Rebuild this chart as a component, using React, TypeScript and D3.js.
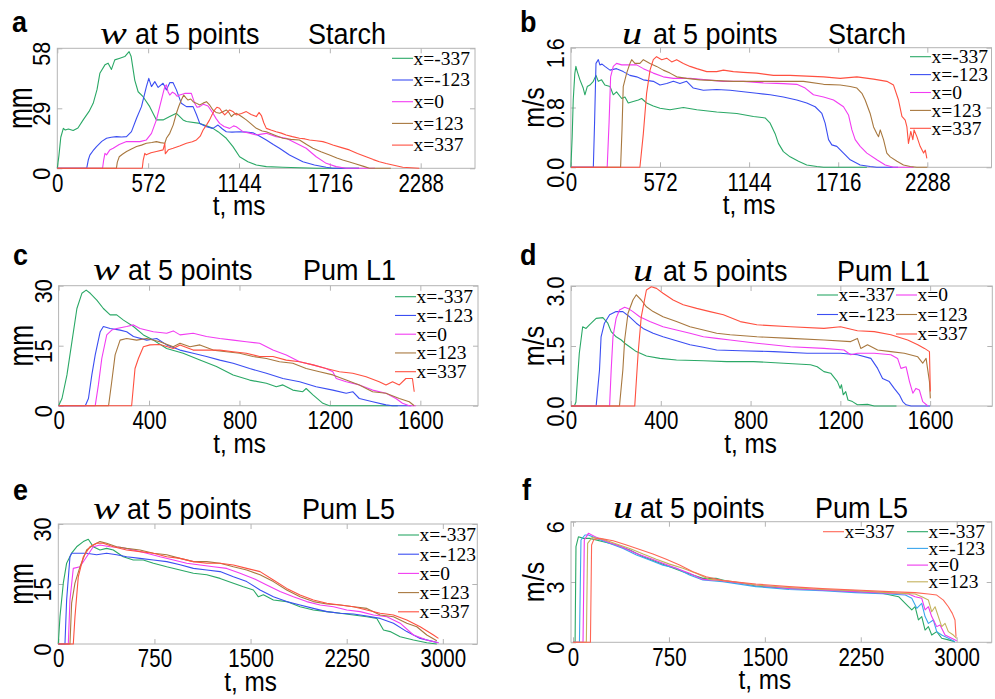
import React, { useEffect, useRef } from "react";
import * as d3 from "d3";

type Pt = [number, number];

// legend labels (shared by every panel)
const legendLabels = ["x=-337", "x=-123", "x=0", "x=123", "x=337"];

// tick values
const starchTicks = [0, 572, 1144, 1716, 2288];
const l1Ticks = [0, 400, 800, 1200, 1600];
const l5Ticks = [0, 750, 1500, 2250, 3000];

// a: w at 5 points, Starch  (t ms, w mm)
const starchW_m337: Pt[] = [[0,0],[10,6],[22,15],[38,19.3],[50,18.5],[70,19],[100,18.3],[130,19.5],[163,23.4],[200,27.5],[226,31.4],[250,38],[268,45.9],[300,50],[320,50.8],[341,47.8],[362,52.4],[394,53.2],[425,54],[452,56.4],[465,54],[488,42.5],[509,37],[540,34.6],[582,29.8],[624,23.4],[666,23.4],[708,25],[750,26.6],[792,23.4],[813,22.6],[897,21.7],[940,20.5],[980,19.3],[1012,17.7],[1064,14.5],[1106,10.5],[1148,5.6],[1200,3.2],[1253,1.6],[1316,0.8],[1420,0.5],[1630,0],[1900,0]];
const starchW_m123: Pt[] = [[0,0],[185,0],[195,4],[205,6.4],[225,8.5],[247,10.5],[280,13],[310,14.5],[340,15],[373,15.3],[405,15.1],[436,15.3],[467,17.7],[499,24.2],[530,29.8],[561,39.5],[576,43.5],[593,39.5],[614,41.9],[635,39.1],[666,41.1],[687,37.9],[708,41.4],[729,41.4],[750,37.9],[781,31.4],[813,29.8],[855,29.8],[876,26],[897,21.7],[939,20.1],[980,19.3],[1012,20.9],[1040,19],[1064,17.7],[1100,17.5],[1148,17.7],[1190,17.5],[1232,17.2],[1275,15.5],[1316,13.7],[1360,11.5],[1399,9.7],[1462,6.4],[1546,3.2],[1619,1.6],[1693,0.5],[1735,0],[1900,0]];
const starchW_0: Pt[] = [[0,0],[285,0],[292,4],[300,7.2],[310,6.5],[330,8.8],[352,9.7],[390,11.5],[436,12.9],[480,12.9],[520,12.9],[561,13.7],[593,16.9],[624,23.4],[645,29.8],[665,36],[677,39.5],[687,40.3],[697,37],[708,35.4],[725,36.8],[739,36.2],[755,34.8],[771,35.4],[802,36.2],[844,36.2],[865,31.4],[880,29.5],[897,29.8],[920,31],[949,30.1],[980,26.6],[1000,24],[1022,21.7],[1050,20.2],[1085,19.3],[1110,20.5],[1127,20.1],[1169,17.7],[1210,17],[1253,16.1],[1285,16.5],[1316,16.9],[1378,15.3],[1441,14.5],[1504,12.1],[1567,9.7],[1630,5.6],[1693,2.4],[1756,0.8],[1818,0],[2000,0]];
const starchW_123: Pt[] = [[0,0],[372,0],[378,3],[390,5.6],[410,6.8],[436,8.1],[470,9.5],[499,10.5],[530,11.2],[561,12.1],[595,12.5],[624,12.9],[650,12.4],[677,12.1],[687,14.5],[708,16.9],[730,21],[750,26.6],[765,30],[781,33],[796,35.4],[810,34],[823,33],[840,33.5],[855,32.2],[875,31.5],[897,30.6],[918,31.5],[939,32.2],[960,30.5],[980,28.2],[1000,27],[1022,26.6],[1045,27.5],[1064,28.2],[1080,27],[1096,25],[1110,26],[1127,26.6],[1160,25],[1190,23.4],[1220,21.5],[1253,19.3],[1290,18],[1316,17.7],[1370,16],[1420,14.5],[1470,14],[1525,13.7],[1570,11.5],[1609,9.7],[1660,8],[1714,6.4],[1760,5],[1797,4],[1840,3],[1881,2.1],[1934,0.8],[1965,0],[2100,0]];
const starchW_337: Pt[] = [[0,0],[535,0],[541,4],[551,7.2],[560,6.5],[590,7.5],[624,8.1],[666,8.9],[673,11],[677,12.1],[680,7],[700,9],[729,9.7],[770,10.8],[813,12.1],[850,12.8],[876,13.7],[900,15.5],[918,18.5],[940,21],[959,23.4],[975,26],[991,28.2],[1005,29.5],[1022,29],[1040,27],[1054,25.8],[1070,27],[1085,28.2],[1105,27.5],[1127,25.8],[1160,26.5],[1190,27.4],[1220,26],[1253,25],[1270,27],[1285,25.5],[1300,22],[1316,19.3],[1345,18.5],[1378,17.7],[1410,17],[1441,16.1],[1480,15.3],[1525,14.5],[1560,14.2],[1588,13.7],[1630,13.3],[1672,12.9],[1700,12.2],[1735,11.3],[1790,10],[1839,8.9],[1890,7.2],[1944,5.6],[1990,4.2],[2028,3.2],[2070,2.3],[2112,1.6],[2175,0.5],[2279,0]];

// b: u at 5 points, Starch  (t ms, u m/s)
const starchU_m337: Pt[] = [[0,0],[8,0.4],[15,0.9],[25,1.25],[32,1.35],[41,1.28],[58,1.17],[79,1.06],[90,0.97],[105,1.08],[122,1.1],[144,1.15],[161,1.23],[176,1.15],[197,1.17],[218,1.1],[251,1.08],[272,0.97],[293,1.01],[326,0.92],[347,0.94],[368,0.86],[400,0.88],[433,0.9],[454,0.92],[486,0.86],[529,0.82],[572,0.79],[636,0.77],[722,0.8],[808,0.77],[936,0.74],[1065,0.72],[1172,0.68],[1247,0.66],[1279,0.59],[1311,0.45],[1332,0.32],[1364,0.21],[1407,0.14],[1461,0.08],[1514,0.03],[1579,0.01],[1622,0],[1900,0]];
const starchU_m123: Pt[] = [[0,0],[144,0],[152,0.6],[161,1.39],[176,1.44],[186,1.37],[200,1.38],[218,1.35],[251,1.3],[293,1.32],[336,1.28],[379,1.23],[422,1.21],[465,1.17],[529,1.15],[572,1.1],[615,1.12],[658,1.15],[700,1.12],[743,1.15],[786,1.06],[850,1.03],[936,1.04],[1022,1.03],[1107,1.01],[1193,0.99],[1279,0.97],[1364,0.94],[1450,0.9],[1514,0.86],[1568,0.81],[1611,0.72],[1632,0.59],[1654,0.37],[1675,0.3],[1707,0.28],[1750,0.19],[1793,0.1],[1857,0.03],[1921,0.01],[1964,0],[2100,0]];
const starchU_0: Pt[] = [[0,0],[233,0],[245,0.6],[255,1.21],[272,1.35],[293,1.39],[326,1.37],[379,1.37],[422,1.37],[465,1.32],[529,1.26],[593,1.21],[658,1.19],[765,1.19],[872,1.17],[979,1.15],[1107,1.15],[1236,1.13],[1364,1.12],[1450,1.11],[1504,1.06],[1557,0.97],[1622,0.94],[1686,0.9],[1750,0.81],[1782,0.7],[1804,0.5],[1825,0.37],[1857,0.28],[1900,0.19],[1964,0.1],[2018,0.03],[2071,0],[2200,0]];
const starchU_123: Pt[] = [[0,0],[319,0],[328,0.5],[336,1.08],[358,1.26],[379,1.39],[390,1.44],[411,1.39],[443,1.39],[465,1.44],[508,1.39],[550,1.35],[593,1.3],[636,1.26],[679,1.21],[743,1.19],[829,1.17],[936,1.16],[1043,1.15],[1193,1.15],[1343,1.15],[1493,1.15],[1622,1.11],[1729,1.1],[1793,1.08],[1836,1.06],[1868,0.99],[1889,0.9],[1921,0.72],[1943,0.54],[1964,0.45],[1975,0.41],[1986,0.5],[2007,0.37],[2028,0.19],[2050,0.14],[2093,0.08],[2135,0.03],[2178,0.01],[2221,0],[2288,0]];
const starchU_337: Pt[] = [[0,0],[443,0],[465,0.45],[486,0.99],[508,1.3],[529,1.44],[550,1.48],[583,1.44],[615,1.46],[647,1.41],[679,1.44],[722,1.39],[765,1.35],[808,1.32],[872,1.28],[936,1.28],[979,1.3],[1043,1.28],[1107,1.27],[1193,1.26],[1300,1.23],[1407,1.23],[1514,1.22],[1622,1.21],[1729,1.19],[1836,1.21],[1943,1.18],[2028,1.15],[2071,1.1],[2103,0.9],[2125,0.68],[2146,0.63],[2157,0.54],[2167,0.32],[2182,0.48],[2195,0.37],[2203,0.5],[2221,0.41],[2242,0.28],[2264,0.19],[2275,0.23],[2285,0.12]];

// c: w at 5 points, Pum L1
const l1W_m337: Pt[] = [[0,0],[15,1.8],[37,7.7],[59,16],[81,24.3],[103,28.1],[122,28.9],[140,28.1],[169,26.4],[198,24.3],[228,22.7],[257,22.7],[287,21.4],[331,19.8],[375,17.7],[419,16.4],[478,14.3],[551,13.1],[625,11.4],[698,9.8],[772,7.7],[845,6.4],[919,5.6],[963,4.75],[992,5.2],[1036,3.9],[1080,3.5],[1095,4.3],[1125,2.7],[1169,0.6],[1198,0],[1500,0]];
const l1W_m123: Pt[] = [[0,0],[118,0],[132,1.8],[147,7.7],[162,12.7],[184,18.5],[198,19.8],[228,19.3],[272,18.9],[301,18.5],[331,17.3],[390,16.4],[434,16.8],[478,15.2],[537,13.9],[595,13.1],[654,12.3],[713,11.4],[772,10.6],[845,9.3],[919,8.1],[992,6.8],[1066,6],[1139,4.75],[1213,3.9],[1272,3.1],[1301,3.5],[1330,1.8],[1389,1],[1448,0.2],[1477,0],[1560,0]];
const l1W_0: Pt[] = [[0,0],[162,0],[176,5.2],[191,11.8],[213,17.7],[235,18.9],[257,19.3],[301,19.8],[331,20.2],[360,19.3],[419,18.5],[478,18.1],[507,18.7],[537,17.7],[595,18.1],[654,17.3],[713,16.8],[772,16.4],[830,16],[889,15.6],[948,13.9],[1007,12.7],[1066,11],[1125,10.2],[1183,9.3],[1213,8.5],[1228,6.8],[1272,6],[1330,5.2],[1389,3.9],[1448,3.1],[1492,1.8],[1521,0.6],[1551,0],[1580,0]];
const l1W_123: Pt[] = [[0,0],[221,0],[235,6],[250,12.7],[272,16.4],[301,16.8],[345,16.4],[390,16.8],[448,16],[507,14.75],[537,15.6],[581,14.75],[625,15.2],[684,13.9],[742,13.5],[801,13.1],[860,12.3],[919,11.8],[977,11],[1036,10.6],[1095,9.3],[1154,8.5],[1213,7.7],[1272,6.4],[1330,5.2],[1389,3.5],[1448,3.1],[1507,1.8],[1551,1],[1573,0]];
const l1W_337: Pt[] = [[0,0],[323,0],[338,9.3],[353,11.8],[375,14.75],[404,15.2],[448,15.3],[507,14.3],[537,15.2],[595,13.9],[654,13.9],[713,13.9],[772,13.5],[830,13.1],[889,12.3],[948,12.3],[1007,11.4],[1066,11],[1125,10.2],[1183,9.3],[1242,8.5],[1301,8.1],[1360,7.25],[1418,6],[1448,5.2],[1477,6],[1507,5.2],[1536,6.8],[1565,6.8],[1573,3.5]];

// d: u at 5 points, Pum L1
const l1U_m337: Pt[] = [[0,0],[15,0],[22,0.1],[37,1.32],[52,1.98],[67,1.94],[82,2.03],[112,2.19],[142,2.21],[164,2.07],[179,1.86],[201,1.73],[224,1.65],[239,1.57],[261,1.48],[291,1.36],[336,1.25],[396,1.19],[470,1.15],[590,1.13],[694,1.11],[813,1.11],[948,1.07],[1067,1.03],[1097,0.98],[1127,0.86],[1157,0.82],[1187,0.61],[1199,0.44],[1205,0.53],[1213,0.28],[1224,0.36],[1234,0.15],[1254,0.11],[1276,0.03],[1321,0.04],[1351,0],[1450,0]];
const l1U_m123: Pt[] = [[0,0],[112,0],[127,0.9],[134,1.73],[149,2.07],[172,2.28],[201,2.36],[231,2.36],[261,2.23],[291,2.07],[321,1.94],[366,1.82],[410,1.73],[470,1.63],[530,1.53],[590,1.47],[649,1.4],[754,1.38],[903,1.36],[1052,1.32],[1201,1.32],[1276,1.28],[1336,1.19],[1366,0.94],[1388,0.69],[1403,0.65],[1418,0.61],[1440,0.44],[1463,0.28],[1478,0.11],[1493,0.03],[1515,0],[1600,0]];
const l1U_0: Pt[] = [[0,0],[172,0],[179,0.9],[187,1.73],[201,2.19],[216,2.4],[239,2.47],[254,2.44],[276,2.36],[306,2.23],[351,2.11],[410,1.98],[470,1.9],[530,1.82],[590,1.73],[649,1.69],[709,1.65],[828,1.57],[978,1.48],[1127,1.44],[1216,1.4],[1246,1.28],[1276,1.32],[1351,1.32],[1425,1.28],[1455,1.19],[1470,0.94],[1493,0.98],[1508,0.61],[1523,0.32],[1537,0.44],[1552,0.4],[1567,0.11],[1590,0]];
const l1U_123: Pt[] = [[0,0],[216,0],[231,0.9],[239,1.65],[254,2.32],[276,2.65],[291,2.78],[313,2.65],[336,2.48],[366,2.36],[410,2.23],[470,2.11],[530,1.98],[590,1.9],[649,1.82],[709,1.78],[828,1.73],[978,1.69],[1127,1.65],[1246,1.61],[1276,1.69],[1291,1.44],[1321,1.53],[1366,1.4],[1425,1.36],[1485,1.32],[1545,1.23],[1567,1.07],[1582,1.19],[1597,0.61],[1601,0.19]];
const l1U_337: Pt[] = [[0,0],[284,0],[299,1.32],[313,2.23],[336,2.9],[358,2.98],[381,2.94],[410,2.82],[455,2.65],[500,2.53],[560,2.44],[619,2.36],[679,2.28],[754,2.11],[828,2.03],[978,1.98],[1127,1.94],[1201,1.98],[1276,1.88],[1351,1.86],[1425,1.78],[1500,1.65],[1545,1.53],[1575,1.44],[1597,1.36],[1601,0.36]];

// e: w at 5 points, Pum L5
const l5W_m337: Pt[] = [[0,0],[13,6.8],[39,15.2],[65,20.2],[104,22.7],[143,24.3],[195,25.6],[234,26.2],[273,24.3],[325,23.5],[377,23.9],[429,23.5],[507,21.8],[585,21],[663,21],[742,20.2],[846,19.3],[950,18.5],[1054,17.7],[1158,17.3],[1262,16.4],[1366,15.2],[1444,14.3],[1522,13.5],[1561,11.8],[1600,12.3],[1678,11],[1782,10.6],[1886,9.3],[1990,8.5],[2095,8.1],[2199,7.7],[2303,7.25],[2407,6.8],[2485,6.4],[2537,3.5],[2589,3.1],[2667,1.8],[2771,1],[2875,0.3],[2953,0]];
const l5W_m123: Pt[] = [[0,0],[52,0],[65,11],[91,21.8],[104,22.7],[221,22.7],[299,22.3],[377,22.7],[455,22.3],[533,21.8],[637,21.4],[742,21],[846,20.6],[950,19.8],[1054,18.9],[1158,18.5],[1262,18.1],[1366,16.8],[1470,15.6],[1574,13.5],[1678,11.8],[1782,10.6],[1886,9.75],[1990,8.9],[2095,8.1],[2199,7.7],[2303,7.5],[2407,7],[2511,6.4],[2615,5.2],[2719,3.1],[2823,1.4],[2927,0.6],[2966,0.3]];
const l5W_0: Pt[] = [[0,0],[78,0],[91,11],[117,18.9],[169,19.3],[221,21.8],[273,24.3],[325,24.75],[403,24.3],[481,24.2],[585,23.5],[690,22.7],[794,21.8],[898,21],[1002,20.2],[1106,19.75],[1210,19.3],[1314,18.9],[1418,17.7],[1522,16.4],[1626,14.75],[1730,13.1],[1834,11.8],[1938,10.6],[2043,9.75],[2147,9.3],[2251,8.5],[2355,8.1],[2459,7.25],[2563,6.8],[2667,5.2],[2771,2.25],[2875,1],[2966,0.3]];
const l5W_123: Pt[] = [[0,0],[91,0],[104,10.2],[130,15.2],[169,19.3],[221,23.5],[273,24.75],[325,25.6],[377,25.2],[455,24.3],[533,23.9],[637,23.5],[742,22.7],[846,22.3],[950,21.4],[1054,20.6],[1158,20.6],[1262,20.2],[1366,19.3],[1470,18.5],[1574,17.3],[1678,15.6],[1782,13.5],[1886,11.8],[1990,10.6],[2095,10],[2199,9.75],[2303,9.3],[2407,8.9],[2511,7.25],[2615,6.8],[2719,5.2],[2797,4.3],[2875,2.25],[2953,0.8]];
const l5W_337: Pt[] = [[0,0],[117,0],[130,6.8],[156,16.8],[195,21.8],[247,24.3],[299,25.2],[351,25.2],[429,24.3],[533,23.5],[637,23.1],[742,22.7],[846,21.8],[950,21.4],[1054,20.6],[1158,20.2],[1262,20.2],[1366,19.75],[1470,18.9],[1574,18.1],[1678,16],[1782,13.9],[1886,12.25],[1990,11],[2095,10.2],[2199,9.75],[2303,9.3],[2407,8.5],[2511,7.7],[2615,7.25],[2719,6],[2823,4.3],[2927,2.25],[2966,1.4]];

// f: u at 5 points, Pum L5
const l5U_m337: Pt[] = [[0,0],[16,0],[23,4.76],[42,5.25],[80,5.17],[132,5.17],[236,5],[340,4.84],[444,4.59],[548,4.26],[651,4.01],[755,3.76],[859,3.51],[937,3.35],[1015,3.18],[1118,3.18],[1170,3.1],[1222,3.02],[1326,2.93],[1430,2.8],[1689,2.68],[1949,2.6],[2208,2.52],[2416,2.44],[2546,2.27],[2598,1.94],[2649,1.61],[2675,1.77],[2701,1.11],[2727,1.28],[2753,0.61],[2779,0.78],[2805,0.36],[2844,0.53],[2883,0.2],[2935,0.12],[2987,0.03]];
const l5U_m123: Pt[] = [[0,0],[50,0],[62,5.09],[93,5.34],[119,5.34],[184,5.17],[288,4.92],[392,4.67],[496,4.34],[599,4.09],[703,3.84],[807,3.68],[911,3.35],[1015,3.1],[1170,3.02],[1430,2.77],[1689,2.63],[1949,2.57],[2208,2.47],[2468,2.4],[2598,2.35],[2649,2.19],[2688,1.69],[2727,1.94],[2753,1.28],[2779,0.94],[2818,1.11],[2844,0.53],[2883,0.36],[2935,0.2],[2987,0.03]];
const l5U_0: Pt[] = [[0,0],[78,0],[88,5.09],[120,5.42],[184,5.22],[288,4.95],[392,4.72],[496,4.42],[599,4.18],[703,3.93],[807,3.68],[911,3.43],[1015,3.13],[1170,3.07],[1430,2.85],[1689,2.68],[1949,2.6],[2208,2.52],[2468,2.44],[2623,2.4],[2675,2.27],[2727,2.19],[2753,1.61],[2779,1.77],[2805,1.28],[2844,0.78],[2870,0.86],[2909,0.36],[2961,0.2],[3000,0.08]];
const l5U_123: Pt[] = [[0,0],[104,0],[114,4.92],[150,5.22],[236,5.12],[340,4.89],[444,4.67],[548,4.39],[651,4.13],[755,3.89],[859,3.68],[963,3.43],[1067,3.13],[1222,3.05],[1430,2.85],[1689,2.73],[1949,2.63],[2208,2.57],[2468,2.47],[2675,2.4],[2727,2.27],[2779,2.1],[2805,1.52],[2831,1.77],[2857,1.28],[2883,0.78],[2909,0.94],[2935,0.53],[2974,0.36],[3000,0.2]];
const l5U_337: Pt[] = [[0,0],[136,0],[145,4.84],[163,5.12],[210,5.17],[314,5.05],[418,4.84],[522,4.62],[625,4.39],[729,4.13],[833,3.84],[937,3.51],[1041,3.26],[1170,3.07],[1430,2.9],[1689,2.77],[1949,2.67],[2208,2.6],[2468,2.52],[2675,2.47],[2779,2.4],[2844,2.35],[2896,2.1],[2935,1.77],[2966,1.44],[2987,1.11],[2995,0.28]];

const baseColors = ["#2aa866", "#3b4ef2", "#f23cf2", "#a8783f", "#ff5040"];
const l5UColors = ["#2aa866", "#3aa6ee", "#ee38ee", "#c4b25c", "#ff6655"];

const SANS = "'Liberation Sans', Arial, sans-serif";
const SERIF = "'Liberation Serif', 'Times New Roman', serif";
const GRID = "#b4b4b4";

interface LegendCol { x: number; y: number; items: number[] }
interface Panel {
  letter: string; letterX: number; letterY: number;
  sym: string; material: string; unit: string;
  symX: number; atX: number; matX: number; titleY: number;
  left: number; right: number; top: number; bottom: number;
  xMin: number; xMax: number; xTicks: number[];
  yTicks: number[]; yFmt: string;
  series: Pt[][]; colors: string[];
  legend: LegendCol[]; legendDy: number;
}

const panels: Panel[] = [
  { letter: "a", letterX: 12, letterY: 32, sym: "w", material: "Starch", unit: "mm",
    symX: 100, atX: 135, matX: 308, titleY: 44,
    left: 57.3, right: 475, top: 48.3, bottom: 168.3, xMin: 0, xMax: 2630, xTicks: starchTicks,
    yTicks: [0, 29, 58], yFmt: "d",
    series: [starchW_m337, starchW_m123, starchW_0, starchW_123, starchW_337], colors: baseColors,
    legend: [{ x: 392, y: 58.3, items: [0, 1, 2, 3, 4] }], legendDy: 21.7 },
  { letter: "b", letterX: 520, letterY: 32, sym: "u", material: "Starch", unit: "m/s",
    symX: 622, atX: 653, matX: 828, titleY: 43.5,
    left: 570.9, right: 991.5, top: 47.7, bottom: 167.3, xMin: 0, xMax: 2700, xTicks: starchTicks,
    yTicks: [0, 0.8, 1.6], yFmt: ".1f",
    series: [starchU_m337, starchU_m123, starchU_0, starchU_123, starchU_337], colors: baseColors,
    legend: [{ x: 910, y: 56.7, items: [0, 1, 2, 3, 4] }], legendDy: 17.9 },
  { letter: "c", letterX: 13, letterY: 265, sym: "w", material: "Pum L1", unit: "mm",
    symX: 93, atX: 128, matX: 303, titleY: 280,
    left: 58.6, right: 478, top: 285.7, bottom: 405.7, xMin: 0, xMax: 1855, xTicks: l1Ticks,
    yTicks: [0, 15, 30], yFmt: "d",
    series: [l1W_m337, l1W_m123, l1W_0, l1W_123, l1W_337], colors: baseColors,
    legend: [{ x: 395, y: 296.7, items: [0, 1, 2, 3, 4] }], legendDy: 18.75 },
  { letter: "d", letterX: 520, letterY: 265, sym: "u", material: "Pum L1", unit: "m/s",
    symX: 633, atX: 663, matX: 837, titleY: 281,
    left: 571, right: 992.3, top: 286, bottom: 406, xMin: 0, xMax: 1877, xTicks: l1Ticks,
    yTicks: [0, 1.5, 3], yFmt: ".1f",
    series: [l1U_m337, l1U_m123, l1U_0, l1U_123, l1U_337], colors: baseColors,
    legend: [{ x: 817, y: 295, items: [0, 1] }, { x: 896, y: 295, items: [2, 3, 4] }], legendDy: 19.5 },
  { letter: "e", letterX: 13, letterY: 500, sym: "w", material: "Pum L5", unit: "mm",
    symX: 93, atX: 127, matX: 302, titleY: 519,
    left: 58.3, right: 477.3, top: 524, bottom: 644, xMin: 0, xMax: 3269, xTicks: l5Ticks,
    yTicks: [0, 15, 30], yFmt: "d",
    series: [l5W_m337, l5W_m123, l5W_0, l5W_123, l5W_337], colors: baseColors,
    legend: [{ x: 398, y: 535, items: [0, 1, 2, 3, 4] }], legendDy: 19.2 },
  { letter: "f", letterX: 522, letterY: 500, sym: "u", material: "Pum L5", unit: "m/s",
    symX: 613, atX: 640, matX: 815, titleY: 518,
    left: 571, right: 991.7, top: 521.7, bottom: 642.3, xMin: -16, xMax: 3274, xTicks: l5Ticks,
    yTicks: [0, 3, 6], yFmt: "d",
    series: [l5U_m337, l5U_m123, l5U_0, l5U_123, l5U_337], colors: l5UColors,
    legend: [{ x: 823, y: 531.7, items: [4] }, { x: 907, y: 531.7, items: [0, 1, 2, 3] }], legendDy: 16.7 },
];

type Sel = d3.Selection<SVGGElement, unknown, null, undefined>;

// text with optional rotation and stretch (the source figure is a bit distorted)
const addText = (g: Sel, x: number, y: number, s: string,
  o: { size: number; family?: string; weight?: string; italic?: boolean; anchor?: string; rot?: number; sx?: number; sy?: number }) =>
  g.append("text")
    .attr("transform", `translate(${x},${y}) rotate(${o.rot ?? 0}) scale(${o.sx ?? 1},${o.sy ?? 1})`)
    .attr("font-family", o.family ?? SANS)
    .attr("font-size", o.size)
    .attr("font-weight", o.weight ?? "normal")
    .attr("font-style", o.italic ? "italic" : "normal")
    .attr("text-anchor", o.anchor ?? "start")
    .attr("fill", "#000")
    .text(s);

const drawPanel = (root: Sel, p: Panel) => {
  const g = root.append("g");
  const x = d3.scaleLinear().domain([p.xMin, p.xMax]).range([p.left, p.right]);
  const y = d3.scaleLinear().domain([p.yTicks[0], p.yTicks[p.yTicks.length - 1]]).range([p.bottom, p.top]);

  // frame
  g.append("rect")
    .attr("x", p.left).attr("y", p.top)
    .attr("width", p.right - p.left).attr("height", p.bottom - p.top)
    .attr("fill", "none").attr("stroke", GRID).attr("stroke-width", 1);

  // bottom axis with labels, inward ticks
  const gx = g.append("g").attr("transform", `translate(0,${p.bottom})`)
    .call(d3.axisBottom(x).tickValues(p.xTicks).tickSizeInner(-5).tickSizeOuter(0)
      .tickPadding(5.5).tickFormat(d3.format("d")));
  gx.select(".domain").remove();
  gx.selectAll("line").attr("stroke", GRID);
  gx.selectAll("text").attr("font-family", SANS).attr("font-size", 25).attr("fill", "#000")
    .attr("transform", "scale(0.82,1)");

  // top + right mirror ticks
  const gt = g.append("g").attr("transform", `translate(0,${p.top})`)
    .call(d3.axisTop(x).tickValues(p.xTicks).tickSizeInner(-5).tickSizeOuter(0).tickFormat(() => ""));
  gt.select(".domain").remove();
  gt.selectAll("line").attr("stroke", GRID);
  const gr = g.append("g").attr("transform", `translate(${p.right},0)`)
    .call(d3.axisRight(y).tickValues(p.yTicks).tickSizeInner(-5).tickSizeOuter(0).tickFormat(() => ""));
  gr.select(".domain").remove();
  gr.selectAll("line").attr("stroke", GRID);

  // left axis, rotated labels
  const gy = g.append("g").attr("transform", `translate(${p.left},0)`)
    .call(d3.axisLeft(y).tickValues(p.yTicks).tickSizeInner(-5).tickSizeOuter(0)
      .tickFormat(d3.format(p.yFmt) as any));
  gy.select(".domain").remove();
  gy.selectAll("line").attr("stroke", GRID);
  gy.selectAll("text").attr("x", 0).attr("dy", 0).attr("text-anchor", "middle")
    .attr("font-family", SANS).attr("font-size", 24).attr("fill", "#000")
    .attr("transform", "translate(-7,5) rotate(-90) scale(0.9,1)");

  // series
  const line = d3.line<Pt>().x(d => x(d[0])).y(d => y(d[1]));
  p.series.forEach((s, i) => {
    g.append("path").attr("d", line(s) ?? "")
      .attr("fill", "none").attr("stroke", p.colors[i]).attr("stroke-width", 1.1)
      .attr("stroke-linejoin", "round");
  });

  // legend (no frame)
  p.legend.forEach(col => {
    col.items.forEach((k, j) => {
      const ly = col.y + j * p.legendDy;
      g.append("line").attr("x1", col.x).attr("x2", col.x + 21).attr("y1", ly).attr("y2", ly)
        .attr("stroke", p.colors[k]).attr("stroke-width", 1.1);
      addText(g, col.x + 21.5, ly + 6.3, legendLabels[k], { size: 19.5, family: SERIF });
    });
  });

  // titles and labels
  addText(g, p.letterX, p.letterY, p.letter, { size: 27, weight: "bold", sy: 1.1 });
  addText(g, p.symX, p.titleY, p.sym, { size: 31, family: SERIF, italic: true, sx: 1.3 });
  addText(g, p.atX, p.titleY, "at 5 points", { size: 29, sx: 0.93 });
  addText(g, p.matX, p.titleY, p.material, { size: 29, sx: 0.93 });
  const midX = x(p.xTicks[p.xTicks.length - 1] / 2);
  addText(g, midX, p.bottom + 47, "t, ms", { size: 27, sx: 0.9, anchor: "middle" });
  const midY = (p.top + p.bottom) / 2;
  if (p.unit === "mm") {
    addText(g, p.left - 25.5, midY, "mm", { size: 25, rot: -90, sy: 1.4, anchor: "middle" });
  } else {
    addText(g, p.left - 27, midY, "m/s", { size: 25, rot: -90, sy: 1.2, anchor: "middle" });
  }
};

const App = () => {
  const ref = useRef<SVGSVGElement>(null);

  useEffect(() => {
    const svg = d3.select(ref.current);
    svg.selectAll("*").remove();
    const root = svg.append("g") as unknown as Sel;
    panels.forEach(p => drawPanel(root, p));
  }, []);

  return (
    <svg ref={ref} width={995} height={699}
      style={{ position: "absolute", left: 0, top: 0, background: "#fff", display: "block" }} />
  );
};

export default App;
